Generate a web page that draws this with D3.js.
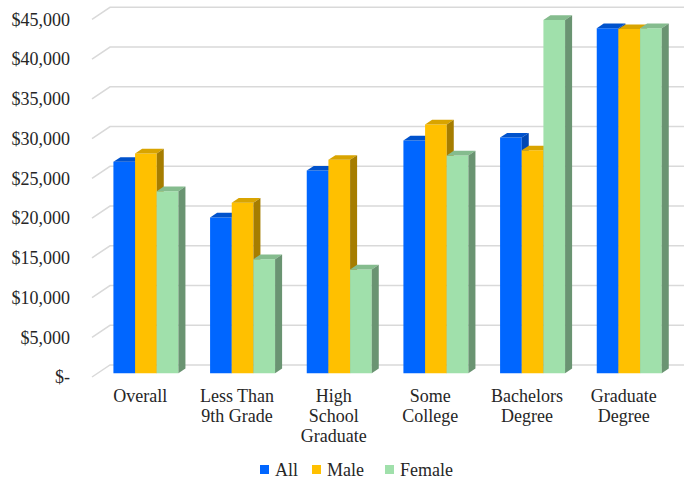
<!DOCTYPE html>
<html>
<head>
<meta charset="utf-8">
<script src="https://cdn.jsdelivr.net/npm/d3@7"></script>
<style>
  html, body { margin: 0; padding: 0; background: #fff; }
  svg { display: block; }
  text { font-family: "Liberation Serif", "Times New Roman", serif; fill: #262626; }
</style>
</head>
<body>
<svg id="chart" width="684" height="482"></svg>
<script>
// Median earnings by educational attainment
const categories = ["Overall", "Less Than 9th Grade", "High School Graduate", "Some College", "Bachelors Degree", "Graduate Degree"];
const categoryLines = [["Overall"], ["Less Than", "9th Grade"], ["High", "School", "Graduate"], ["Some", "College"], ["Bachelors", "Degree"], ["Graduate", "Degree"]];
const seriesNames = ["All", "Male", "Female"];
const allValues    = [26600, 19600, 25500, 29300, 29650, 43400];
const maleValues   = [27650, 21450, 26850, 31300, 28050, 43300];
const femaleValues = [22900, 14350, 13050, 27400, 44450, 43400];
const tickValues = [0, 5000, 10000, 15000, 20000, 25000, 30000, 35000, 40000, 45000];

const seriesValues = [allValues, maleValues, femaleValues];
const palette = {
  All:    { front: "#0066ff", top: "#0052cc", side: "#0047b3" },
  Male:   { front: "#ffc000", top: "#d9a400", side: "#a67d00" },
  Female: { front: "#a0e0ab", top: "#85bc8e", side: "#6a9472" }
};

const svg = d3.select("#chart");

// Oblique 3D projection: depth 0 is the front edge of the floor, depth 1 the back wall.
const depthX = 18, depthY = 12;
const barDepthFront = 0.31, barDepthBack = 0.70;

const x = d3.scaleBand().domain(categories).range([92, 672])
  .paddingInner(0.3276).paddingOuter(0.1638);
const xs = d3.scaleBand().domain(seriesNames).range([0, x.bandwidth()]);
const y = d3.scaleLinear().domain([0, 45000]).range([377, 19.3]);

const proj = (px, v, depth) => [px + depthX * depth, y(v) - depthY * depth];

// Back wall gridlines with their diagonal floor/side segments
const grid = svg.append("g");
tickValues.forEach(v => {
  const a = proj(92, v, 0), b = proj(92, v, 1);
  grid.append("path")
    .attr("d", `M${a[0]},${a[1]}L${b[0]},${b[1]}L684,${b[1]}`)
    .attr("fill", "none").attr("stroke", "#d9d9d9").attr("stroke-width", 1.5);
});

// Y axis labels
const fmt = v => v === 0 ? "$-" : "$" + d3.format(",")(v);
svg.append("g").selectAll("text").data(tickValues).join("text")
  .attr("x", 70).attr("y", d => y(d)).attr("dy", "0.35em")
  .attr("text-anchor", "end").attr("font-size", 18)
  .text(fmt);

// 3D columns
const bars = svg.append("g");
categories.forEach((c, ci) => {
  seriesNames.forEach((s, si) => {
    const v = seriesValues[si][ci];
    const x0 = x(c) + xs(s), x1 = x0 + xs.bandwidth();
    const col = palette[s];
    const p = (px, val, d) => proj(px, val, d).join(",");
    const g = bars.append("g");
    // front face
    g.append("path").attr("fill", col.front)
      .attr("d", `M${p(x0, 0, barDepthFront)}L${p(x1, 0, barDepthFront)}L${p(x1, v, barDepthFront)}L${p(x0, v, barDepthFront)}Z`);
    // top face
    g.append("path").attr("fill", col.top)
      .attr("d", `M${p(x0, v, barDepthFront)}L${p(x1, v, barDepthFront)}L${p(x1, v, barDepthBack)}L${p(x0, v, barDepthBack)}Z`);
    // right side face
    g.append("path").attr("fill", col.side)
      .attr("d", `M${p(x1, 0, barDepthFront)}L${p(x1, 0, barDepthBack)}L${p(x1, v, barDepthBack)}L${p(x1, v, barDepthFront)}Z`);
  });
});

// Category labels
const catG = svg.append("g");
categories.forEach((c, ci) => {
  const t = catG.append("text")
    .attr("x", x(c) + x.bandwidth() / 2)
    .attr("y", 402).attr("text-anchor", "middle").attr("font-size", 18);
  categoryLines[ci].forEach((line, li) => {
    t.append("tspan").attr("x", x(c) + x.bandwidth() / 2)
      .attr("dy", li === 0 ? 0 : 20).text(line);
  });
});

// Legend
const legendItems = [
  { name: "All", x: 260 },
  { name: "Male", x: 312 },
  { name: "Female", x: 385 }
];
const leg = svg.append("g");
legendItems.forEach(item => {
  leg.append("rect").attr("x", item.x).attr("y", 465).attr("width", 9).attr("height", 9)
    .attr("fill", palette[item.name].front);
  leg.append("text").attr("x", item.x + 15).attr("y", 476)
    .attr("font-size", 18).text(item.name);
});
</script>
</body>
</html>
